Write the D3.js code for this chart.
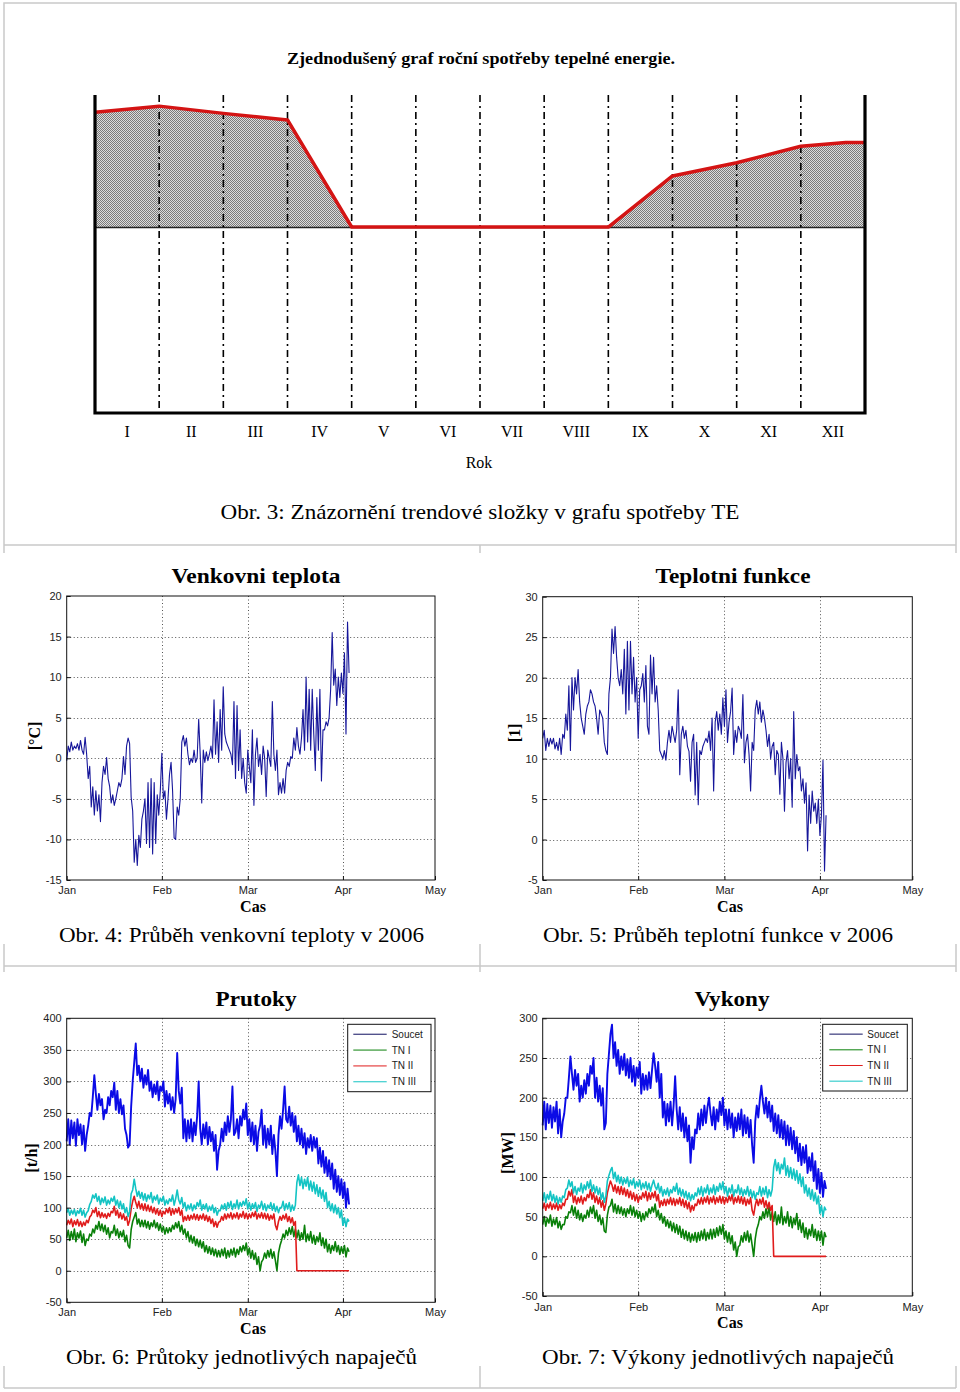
<!DOCTYPE html>
<html><head><meta charset="utf-8">
<script src="https://cdn.jsdelivr.net/npm/d3@7"></script>
<style>body{margin:0;background:#fff}svg{display:block}</style>
</head><body>
<svg id="c" width="960" height="1392"></svg>
<script>
// ---------------- DATA ----------------
// Top schematic chart
const romanMonths = ["I","II","III","IV","V","VI","VII","VIII","IX","X","XI","XII"];
const trendMonthPos = [0,1,2,3,4,5,6,7,8,9,10,11,11.7,12];
const trendValues   = [100,105.3,99,93.3,0,0,0,0,0,44.5,56,70.3,73.7,73.7];

// Lower charts: samples every 12 h from 1 Jan 2006
const sampleStartUTC = Date.UTC(2006,0,1);
const sampleStepHours = 12;
const axisStartUTC = Date.UTC(2006,0,1);
const axisEndUTC = Date.UTC(2006,4,1);

const venkovniTeplota = [
-0.3,1.5,0.8,2.0,1.0,1.5,1.2,1.8,1.0,2.2,
1.0,0.5,2.6,0.5,-2.5,-1.0,-6.0,-3.5,-7.0,-4.0,
-6.5,-4.5,-7.8,-3.0,-1.0,-2.0,0.1,-2.5,-3.5,-5.5,
-4.5,-5.8,-5.0,-4.0,-3.0,-3.5,-2.5,0.2,-2.0,1.5,
2.5,1.8,-4.8,-6.5,-12.8,-10.0,-13.2,-9.5,-11.0,-7.5,
-6.5,-5.0,-10.5,-3.0,-11.0,-2.5,-11.8,-3.0,-10.5,-4.5,
-7.0,-4.0,0.6,-5.0,-4.0,-7.5,-5.0,-2.0,-0.5,-4.0,
-9.8,-10.0,-6.0,-7.0,-5.0,2.0,2.8,1.5,2.5,0.5,
-0.8,0.0,-0.5,1.0,-0.5,0.0,4.8,0.5,-5.5,1.0,
-0.5,0.8,-0.3,0.5,1.5,0.0,7.2,0.5,4.5,-0.5,
6.0,1.0,8.8,3.0,2.0,1.5,1.0,0.5,-0.8,7.0,
-2.5,6.5,-1.5,3.5,-2.5,0.0,-3.0,-4.3,1.0,-1.0,
-3.0,3.5,-5.8,0.5,2.5,-1.0,0.5,-2.0,1.5,0.0,
-4.7,1.0,0.0,-1.0,7.0,0.5,-1.5,1.0,-4.5,-3.0,
-4.3,-2.5,-4.3,-1.5,-0.5,-1.0,0.2,0.0,2.5,1.0,
3.8,1.5,0.5,2.5,6.0,1.0,10.0,2.0,8.5,1.0,
8.5,3.0,-1.5,7.5,1.0,8.5,-2.8,3.5,3.5,4.5,
4.0,5.0,8.5,15.5,9.0,11.0,6.5,10.0,7.5,10.5,
8.0,13.0,3.0,16.8,10.5];

const teplotniFunkce = [
12.5,13.5,11.0,12.5,11.5,12.5,11.8,12.5,11.2,12.0,
11.0,12.5,10.5,13.0,12.5,15.5,13.5,19.0,11.0,20.0,
16.0,20.0,18.0,21.0,17.0,15.0,14.0,13.0,15.5,16.5,
17.0,18.5,18.0,17.0,16.5,15.0,13.0,16.0,15.5,15.0,
12.0,11.0,10.5,18.0,20.0,26.0,23.0,26.3,22.5,20.0,
19.0,21.0,18.0,23.5,15.5,24.5,16.0,24.5,18.0,22.5,
17.0,20.0,12.5,18.5,19.0,20.5,17.0,21.5,14.0,13.0,
22.8,18.0,22.5,17.0,19.0,16.0,11.0,10.5,10.0,11.0,
9.8,12.0,13.5,12.0,14.0,13.0,12.0,13.5,18.5,8.0,
13.0,14.0,12.5,13.5,11.5,10.9,7.2,12.0,13.0,5.5,
12.0,4.3,11.0,10.5,11.5,12.0,12.5,12.0,13.4,11.0,
15.0,6.0,14.5,15.8,13.5,15.5,13.0,17.5,14.0,18.5,
12.0,14.5,15.8,18.7,10.5,13.5,12.0,14.0,13.5,12.5,
17.9,9.5,12.0,13.0,10.5,6.0,12.0,11.0,16.0,17.2,
15.5,17.0,14.5,16.0,15.0,13.5,11.5,13.0,10.0,11.5,
12.0,8.0,11.0,10.5,5.6,12.0,10.0,3.5,9.5,11.0,
7.5,10.0,4.0,15.8,7.5,10.5,8.5,9.0,6.0,7.5,
4.5,7.0,-1.4,5.5,2.0,6.0,3.5,4.5,2.0,5.0,
0.5,3.0,9.8,-3.9,3.0];

const seriesNames = ["Soucet","TN I","TN II","TN III"];

// Prutoky [t/h]
const prutokySoucet = [
205,240,200,238,210,235,198,240,215,232,
200,230,190,215,230,250,245,275,310,280,
255,280,262,272,240,255,250,275,262,285,
275,298,255,285,250,272,248,262,225,215,
195,200,260,300,330,360,310,325,300,320,
290,310,295,318,285,300,275,295,280,300,
270,292,285,300,260,285,265,280,255,275,
250,272,345,285,265,290,210,240,205,238,
210,240,205,235,215,245,300,225,200,232,
210,235,200,228,205,220,190,215,160,190,
200,225,205,235,215,245,220,240,292,215,
220,240,210,245,230,255,240,265,215,240,
205,235,200,230,190,220,230,255,200,230,
195,225,200,230,185,215,190,150,215,245,
225,255,292,240,235,260,230,250,220,245,
205,230,200,225,195,218,185,210,195,215,
190,212,195,210,170,195,165,190,155,180,
150,175,145,170,130,160,125,150,120,145,
115,140,100,130,105];
const prutokyTN1 = [
52,64,48,62,50,66,46,60,52,63,
45,58,40,50,48,58,55,66,60,72,
66,78,64,74,62,72,58,68,52,62,
60,72,56,66,52,62,54,64,46,56,
40,36,65,78,85,92,74,82,70,80,
70,80,68,78,66,76,70,80,68,76,
64,74,62,70,58,68,60,68,62,72,
66,76,68,78,62,72,58,66,52,62,
46,56,44,54,40,50,38,48,36,46,
30,40,28,38,26,36,24,34,22,32,
22,34,24,36,20,32,22,34,25,36,
22,34,26,38,30,40,32,44,25,36,
20,32,18,28,10,22,0,14,18,28,
20,32,22,34,20,30,16,0,28,40,
48,58,52,64,56,68,58,70,54,66,
52,64,48,60,50,72,46,58,48,62,
44,56,42,54,46,60,40,52,36,50,
30,42,28,40,32,46,30,40,26,38,
28,40,22,36,30];
const prutokyTN2 = [
72,80,74,82,70,79,73,81,71,78,
70,77,72,80,76,85,88,96,92,100,
86,94,84,92,85,90,83,91,86,94,
92,102,88,96,84,92,82,90,80,86,
72,80,98,110,118,108,100,110,98,106,
96,106,95,104,94,102,92,100,90,98,
88,96,86,94,90,98,92,100,88,98,
90,98,92,100,88,96,78,86,80,88,
80,88,82,90,81,89,80,88,82,90,
80,88,78,86,75,82,70,78,69,77,
78,86,80,90,82,90,84,92,82,90,
84,92,82,90,85,94,83,91,82,90,
84,92,86,94,82,90,84,92,83,91,
82,90,80,88,82,90,72,65,78,86,
80,88,82,90,78,86,76,84,72,78,
0,0,0,0,0,0,0,0,0,0,
0,0,0,0,0,0,0,0,0,0,
0,0,0,0,0,0,0,0,0,0,
0,0,0,0,0];
const prutokyTN3 = [
92,98,88,96,90,97,87,95,91,99,
88,96,85,92,95,105,110,120,115,122,
110,118,105,115,108,117,104,112,106,115,
110,118,104,112,100,110,98,106,92,100,
86,94,122,128,145,130,118,126,115,124,
112,122,110,120,114,124,108,118,112,120,
106,115,110,118,104,112,106,114,110,120,
104,114,128,112,106,116,100,108,95,104,
98,106,95,104,98,108,102,112,96,105,
98,106,94,102,96,104,92,100,88,96,
95,104,98,106,96,108,100,110,97,106,
100,112,98,108,102,110,104,114,98,108,
96,106,99,108,94,104,100,110,97,106,
95,104,99,108,96,106,94,102,92,100,
100,110,96,106,98,108,94,104,96,104,
140,152,135,148,130,145,134,148,128,142,
126,140,122,136,118,132,115,128,110,124,
100,110,95,106,92,104,90,100,84,96,
72,84,70,82,78];

// Vykony [MW]
const vykonySoucet = [
165,195,160,192,168,190,162,188,170,195,
155,185,150,170,180,200,200,225,252,230,
210,235,215,230,195,215,200,222,205,230,
215,240,230,250,200,225,195,215,190,212,
160,168,230,255,280,292,250,270,240,260,
230,252,235,255,228,248,225,250,220,240,
215,238,225,245,205,230,210,228,210,232,
212,235,256,240,220,245,200,230,175,195,
165,192,170,195,165,190,227,185,160,188,
158,180,150,175,145,165,118,150,135,160,
155,180,160,185,165,190,168,188,200,180,
165,188,160,185,170,195,178,200,165,185,
160,185,162,180,150,175,158,180,160,185,
152,178,155,175,150,172,140,118,170,190,
175,198,215,195,180,200,175,195,170,190,
158,180,155,178,150,172,148,170,140,165,
140,162,135,158,130,150,120,142,115,138,
118,140,105,125,108,130,95,120,85,110,
80,105,75,95,85];
const vykonyTN1 = [
40,50,38,48,42,52,38,47,40,49,
36,44,34,40,40,50,48,56,55,64,
52,62,48,58,46,54,44,52,48,58,
50,62,54,64,48,58,44,52,40,48,
32,30,52,62,64,72,56,66,54,64,
54,62,52,60,50,60,54,64,52,62,
50,58,48,56,44,54,46,56,50,60,
54,62,56,66,50,58,46,54,42,50,
38,46,36,44,32,42,30,40,28,38,
24,34,22,32,20,30,18,28,20,30,
18,30,20,32,22,34,20,30,22,34,
22,34,24,36,26,38,28,40,22,32,
18,30,16,26,8,18,0,12,14,26,
18,30,20,32,18,28,14,0,22,34,
40,50,46,56,48,60,50,62,46,56,
44,56,40,52,42,62,40,50,42,56,
38,50,36,48,40,54,34,46,30,42,
24,36,22,34,26,40,24,34,20,32,
20,32,14,30,24];
const vykonyTN2 = [
60,67,58,66,61,68,59,66,60,67,
58,65,60,67,64,72,72,82,76,84,
68,76,66,74,68,76,66,74,70,78,
74,84,72,80,68,76,66,74,62,70,
58,66,80,88,95,90,82,90,80,88,
78,88,78,86,76,84,74,82,72,80,
70,78,68,76,72,80,74,82,70,80,
72,80,74,82,70,78,62,70,64,72,
64,72,66,74,65,73,64,72,66,74,
64,72,62,70,60,68,56,64,58,66,
64,72,66,74,66,74,68,76,66,74,
68,76,66,74,68,76,67,75,66,74,
68,76,70,78,66,74,68,76,67,75,
66,74,64,72,66,74,58,52,64,72,
64,72,66,74,62,70,60,68,58,64,
0,0,0,0,0,0,0,0,0,0,
0,0,0,0,0,0,0,0,0,0,
0,0,0,0,0,0,0,0,0,0,
0,0,0,0,0];
const vykonyTN3 = [
70,80,68,78,72,82,70,78,68,76,
66,74,68,76,74,84,86,96,88,94,
80,88,78,86,82,92,80,90,84,94,
86,96,82,90,80,88,78,86,72,80,
68,76,95,102,108,112,98,106,94,102,
92,100,90,98,92,100,88,96,90,98,
86,94,88,96,84,92,86,94,84,92,
82,90,96,88,84,92,80,88,76,84,
78,86,76,84,80,88,82,92,78,86,
76,84,74,82,72,80,70,78,72,80,
76,86,78,88,76,86,80,90,78,86,
80,90,78,88,82,92,84,94,80,88,
76,86,80,90,76,84,80,90,78,86,
76,84,78,88,76,84,74,82,72,80,
78,88,76,86,78,88,74,84,76,84,
112,122,108,118,104,116,110,124,102,114,
100,112,98,110,96,108,92,104,88,100,
80,90,76,86,72,84,70,80,66,76,
54,64,50,62,58];

const tempTicks = [-15,-10,-5,0,5,10,15,20];
const funkceTicks = [-5,0,5,10,15,20,25,30];
const prutokyTicks = [-50,0,50,100,150,200,250,300,350,400];
const vykonyTicks = [-50,0,50,100,150,200,250,300];

// ---------------- DRAWING ----------------
const SERIF = "'Liberation Serif','Times New Roman',serif";
const SANS = "'Liberation Sans',Arial,sans-serif";
const svg = d3.select("#c");
const defs = svg.append("defs");

// page frame lines
const fr = svg.append("g").attr("stroke","#c9c9c9").attr("stroke-width",1.5).attr("fill","none");
fr.append("path").attr("d","M4,545 V3 H956 V545");
[545,966,1388].forEach(yy=>fr.append("line").attr("x1",4).attr("x2",956).attr("y1",yy).attr("y2",yy));
[[545,553],[944,972],[1366,1388]].forEach(([a,b])=>{
  [4,480,956].forEach(xx=>fr.append("line").attr("x1",xx).attr("x2",xx).attr("y1",a).attr("y2",b));
});

// ---------- Top chart ----------
const pat = defs.append("pattern").attr("id","hatch").attr("width",2).attr("height",2).attr("patternUnits","userSpaceOnUse");
pat.append("rect").attr("width",2).attr("height",2).attr("fill","#dcdcdc");
pat.append("rect").attr("width",1).attr("height",1).attr("fill","#7a7a7a");
pat.append("rect").attr("x",1).attr("y",1).attr("width",1).attr("height",1).attr("fill","#7a7a7a");

const tx = d3.scaleLinear().domain([0,12]).range([95,865]);
const ty = d3.scaleLinear().domain([-162,115]).range([413,95]);
const trend = d3.zip(trendMonthPos, trendValues);

svg.append("text").attr("x",481).attr("y",64).attr("text-anchor","middle")
  .attr("font-family",SERIF).attr("font-weight","bold").attr("font-size",17)
  .attr("textLength",388).attr("lengthAdjust","spacingAndGlyphs")
  .text("Zjednodušený graf roční spotřeby tepelné energie.");

svg.append("path").datum(trend)
  .attr("d", d3.area().x(d=>tx(d[0])).y0(ty(0)).y1(d=>ty(d[1])))
  .attr("fill","url(#hatch)");
svg.append("line").attr("x1",tx(0)).attr("x2",tx(12)).attr("y1",ty(0)+0.5).attr("y2",ty(0)+0.5)
  .attr("stroke","#222").attr("stroke-width",1.5);
svg.append("g").selectAll("line").data(d3.range(1,12)).join("line")
  .attr("x1",d=>tx(d)).attr("x2",d=>tx(d)).attr("y1",ty(115)).attr("y2",ty(-162))
  .attr("stroke","#000").attr("stroke-width",1.6).attr("stroke-dasharray","7,4,2,4");
svg.append("path").datum(trend)
  .attr("d", d3.line().x(d=>tx(d[0])).y(d=>ty(d[1])))
  .attr("fill","none").attr("stroke","#d41414").attr("stroke-width",3.5).attr("stroke-linejoin","round");
svg.append("path").attr("d",`M${tx(0)},${ty(115)} V${ty(-162)} H${tx(12)} V${ty(115)}`)
  .attr("fill","none").attr("stroke","#000").attr("stroke-width",3.2);
svg.append("g").selectAll("text").data(romanMonths).join("text")
  .attr("x",(d,i)=>tx(i+0.5)).attr("y",437).attr("text-anchor","middle")
  .attr("font-family",SERIF).attr("font-size",16).text(d=>d);
svg.append("text").attr("x",479).attr("y",468).attr("text-anchor","middle")
  .attr("font-family",SERIF).attr("font-size",16).text("Rok");
svg.append("text").attr("x",480).attr("y",519).attr("text-anchor","middle")
  .attr("font-family",SERIF).attr("font-size",22).attr("textLength",519).attr("lengthAdjust","spacingAndGlyphs")
  .text("Obr. 3: Znázornění trendové složky v grafu spotřeby TE");

// ---------- Lower charts ----------
const sampleTime = i => new Date(sampleStartUTC + i*sampleStepHours*3600*1000);

function panel(c){
  const g = svg.append("g");
  const x = d3.scaleUtc().domain([new Date(axisStartUTC), new Date(axisEndUTC)]).range([c.left,c.right]);
  const y = d3.scaleLinear().domain([c.ticks[0], c.ticks[c.ticks.length-1]]).range([c.bottom,c.top]);
  const monthTicks = x.ticks(d3.utcMonth.every(1));
  // grid
  g.append("g").selectAll("line").data(c.ticks.slice(1,-1)).join("line")
    .attr("x1",c.left).attr("x2",c.right).attr("y1",d=>Math.round(y(d))+0.5).attr("y2",d=>Math.round(y(d))+0.5)
    .attr("stroke","#555").attr("stroke-dasharray","1,2.5");
  g.append("g").selectAll("line").data(monthTicks.slice(1,-1)).join("line")
    .attr("x1",d=>Math.round(x(d))+0.5).attr("x2",d=>Math.round(x(d))+0.5).attr("y1",c.top).attr("y2",c.bottom)
    .attr("stroke","#555").attr("stroke-dasharray","1,2.5");
  // series
  c.series.forEach(s=>{
    g.append("path").datum(s.values)
      .attr("d", d3.line().x((d,i)=>x(sampleTime(i))).y(d=>y(d)))
      .attr("fill","none").attr("stroke",s.color).attr("stroke-width",s.width||1)
      .attr("stroke-linejoin","round");
  });
  // frame
  g.append("rect").attr("x",c.left).attr("y",c.top).attr("width",c.right-c.left).attr("height",c.bottom-c.top)
    .attr("fill","none").attr("stroke","#111").attr("stroke-width",1);
  // axes
  const ya = g.append("g").attr("transform",`translate(${c.left},0)`)
    .call(d3.axisLeft(y).tickValues(c.ticks).tickFormat(d=>String(d)).tickSizeInner(-4).tickSizeOuter(0).tickPadding(5));
  const xa = g.append("g").attr("transform",`translate(0,${c.bottom})`)
    .call(d3.axisBottom(x).ticks(d3.utcMonth.every(1)).tickFormat(d3.utcFormat("%b")).tickSizeInner(-4).tickSizeOuter(0).tickPadding(c.xPad));
  [ya,xa].forEach(a=>{
    a.select(".domain").remove();
    a.selectAll("line").attr("stroke","#111");
    a.selectAll("text").attr("font-family",SANS).attr("font-size",11).attr("fill","#222");
  });
  // title, labels
  g.append("text").attr("x",c.titleX).attr("y",c.titleY).attr("text-anchor","middle")
    .attr("font-family",SERIF).attr("font-weight","bold").attr("font-size",20)
    .attr("textLength",c.titleLen).attr("lengthAdjust","spacingAndGlyphs").text(c.title);
  g.append("text").attr("x",c.casX).attr("y",c.casY).attr("text-anchor","middle")
    .attr("font-family",SERIF).attr("font-weight","bold").attr("font-size",16).text("Cas");
  g.append("text").attr("transform",`translate(${c.ylX},${c.ylY}) rotate(-90)`).attr("text-anchor","middle")
    .attr("font-family",SERIF).attr("font-weight","bold").attr("font-size",16).text(c.ylabel);
  g.append("text").attr("x",c.capX).attr("y",c.capY).attr("text-anchor","middle")
    .attr("font-family",SERIF).attr("font-size",22)
    .attr("textLength",c.capLen).attr("lengthAdjust","spacingAndGlyphs").text(c.caption);
  // legend
  if(c.legend){
    const L = c.legend;
    const lg = g.append("g");
    lg.append("rect").attr("x",L.x0).attr("y",L.y0).attr("width",L.x1-L.x0).attr("height",L.y1-L.y0)
      .attr("fill","#fff").attr("stroke","#111").attr("stroke-width",1);
    const rowH = (L.y1-L.y0-4)/4;
    c.series.forEach((s,i)=>{
      const yy = L.y0 + 2 + rowH*(i+0.5);
      lg.append("line").attr("x1",L.lx0).attr("x2",L.lx1).attr("y1",yy).attr("y2",yy)
        .attr("stroke",s.legendColor||s.color).attr("stroke-width",1);
      lg.append("text").attr("x",L.tx).attr("y",yy).attr("dy","0.35em")
        .attr("font-family",SANS).attr("font-size",10).attr("fill","#222").text(s.name);
    });
  }
}

const cSoucet="#0b0be6", cTN1="#0a800a", cTN2="#e01c1c", cTN3="#14c4c4";

panel({left:66.7,right:435,top:596,bottom:880,ticks:tempTicks,xPad:6,
  title:"Venkovni teplota",titleX:256,titleY:583,titleLen:169,
  casX:253,casY:912,ylabel:"[°C]",ylX:40,ylY:736,
  caption:"Obr. 4: Průběh venkovní teploty v 2006",capX:241.5,capY:942,capLen:365,
  series:[{name:"T",values:venkovniTeplota,color:"#16169a",width:1.1}]});

panel({left:542.7,right:912.3,top:596.7,bottom:880,ticks:funkceTicks,xPad:6,
  title:"Teplotni funkce",titleX:733,titleY:583,titleLen:155,
  casX:730,casY:912,ylabel:"[1]",ylX:520,ylY:733,
  caption:"Obr. 5: Průběh teplotní funkce v 2006",capX:718,capY:942,capLen:350,
  series:[{name:"F",values:teplotniFunkce,color:"#16169a",width:1.1}]});

panel({left:66.7,right:435,top:1018.3,bottom:1302.3,ticks:prutokyTicks,xPad:6,
  title:"Prutoky",titleX:256,titleY:1006,titleLen:81,
  casX:253,casY:1334,ylabel:"[t/h]",ylX:37,ylY:1158,
  caption:"Obr. 6: Průtoky jednotlivých napaječů",capX:241.5,capY:1364,capLen:351,
  series:[
    {name:seriesNames[0],values:prutokySoucet,color:cSoucet,legendColor:"#101060",width:1.9},
    {name:seriesNames[1],values:prutokyTN1,color:cTN1,width:1.6},
    {name:seriesNames[2],values:prutokyTN2,color:cTN2,width:1.6},
    {name:seriesNames[3],values:prutokyTN3,color:cTN3,width:1.6}],
  legend:{x0:347.7,x1:431,y0:1024.3,y1:1091.7,lx0:353.3,lx1:386.7,tx:391.7}});

panel({left:542.7,right:912.3,top:1018.3,bottom:1296,ticks:vykonyTicks,xPad:7,
  title:"Vykony",titleX:732,titleY:1006,titleLen:75,
  casX:730,casY:1328,ylabel:"[MW]",ylX:513,ylY:1153,
  caption:"Obr. 7: Výkony jednotlivých napaječů",capX:718,capY:1364,capLen:352,
  series:[
    {name:seriesNames[0],values:vykonySoucet,color:cSoucet,legendColor:"#101060",width:1.9},
    {name:seriesNames[1],values:vykonyTN1,color:cTN1,width:1.6},
    {name:seriesNames[2],values:vykonyTN2,color:cTN2,width:1.6},
    {name:seriesNames[3],values:vykonyTN3,color:cTN3,width:1.6}],
  legend:{x0:822.7,x1:907.3,y0:1024.3,y1:1091,lx0:829.3,lx1:862.7,tx:867.3}});
</script>
</body></html>
